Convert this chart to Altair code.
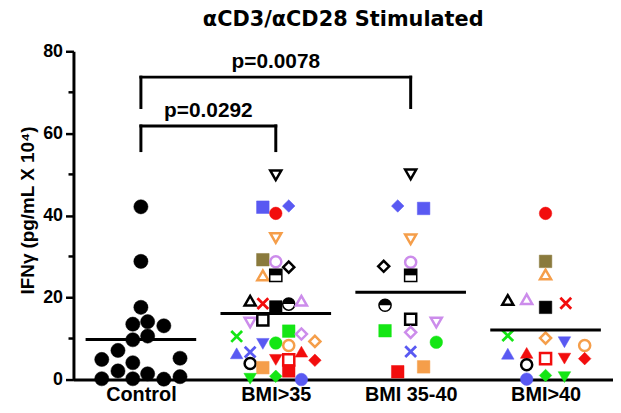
import json
import altair as alt
import pandas as pd

GROUPS = ["Control", "BMI>35", "BMI 35-40", "BMI>40"]

# ---- subjects (each donor has its own symbol) ----
subject_ids = ["CTRL",
               "A1", "A2", "A3", "A4", "A5", "A6", "A7", "A8", "A9", "A10", "A11", "A12", "A13", "A14", "A15", "A16",
               "B1", "B2", "B3", "B4", "B5", "B6", "B7", "B8", "B9", "B10", "B11", "B12", "B13", "B14", "B15", "B16",
               "B17", "B18", "B19", "B20"]
subject_shape = ["circle",
                 "triangle-down", "diamond", "square", "triangle-down", "circle", "diamond", "halfsquare", "halfcircle",
                 "square", "triangle-down", "square", "diamond", "circle", "x", "square", "square",
                 "circle", "square", "triangle-up", "triangle-up", "triangle-up", "square", "x", "x", "diamond",
                 "triangle-down", "circle", "triangle-up", "triangle-up", "square", "triangle-down", "diamond",
                 "circle", "circle", "diamond", "triangle-down"]
subject_color = ["black",
                 "black", "blue", "blue", "orange", "violet", "black", "black", "black",
                 "black", "violet", "green", "violet", "green", "blue", "orange", "red",
                 "red", "olive", "orange", "black", "violet", "black", "red", "green", "orange",
                 "blue", "orange", "blue", "red", "red", "red", "red",
                 "black", "blue", "green", "green"]
subject_fill = ["filled",
                "open", "filled", "filled", "open", "open", "open", "half", "half",
                "open", "open", "filled", "open", "filled", "line", "filled", "filled",
                "filled", "filled", "open", "open", "open", "filled", "line", "line", "open",
                "filled", "open", "filled", "filled", "open", "filled", "filled",
                "open", "filled", "filled", "filled"]

# ---- group data (values in pg/mL x 10^4, horizontal scatter in category units) ----
control_values = [42.1, 28.8, 17.6, 13.5, 14.1, 13.1, 9.7, 10.6, 7.1, 4.9, 4.1, 5.2, 2.1, 0.2, 0.2, 1.4, 0.1, 0.7]
control_offsets = [0, 0, 0, -0.06, 0.05, 0.17, -0.06, 0.05, -0.17, -0.29, -0.06, 0.29, -0.17, -0.29, -0.06, 0.05, 0.17, 0.29]

bmi35_subjects = ["A1", "A3", "B1", "A2", "A4", "B2", "A5", "A6", "B3", "A7", "B4", "B7", "B6", "A8", "B5", "A10",
                  "A9", "A11", "A12", "B9", "B8", "B10", "A13", "B11", "B12", "A14", "B15", "B14", "B13", "B16",
                  "B17", "A15", "A16", "B20", "B19", "B18"]
bmi35_values = [49.8, 42.0, 40.5, 42.3, 34.5, 29.2, 28.7, 27.4, 25.4, 25.4, 19.2, 18.5, 17.7, 18.4, 19.2, 13.9,
                14.5, 11.8, 11.1, 9.3, 10.5, 8.7, 8.9, 8.3, 6.4, 6.7, 4.8, 4.8, 6.8, 4.7,
                3.9, 2.9, 2.1, 0.2, 0.8, 0.0]
bmi35_offsets = [0, -0.096, 0, 0.096, 0, -0.096, 0, 0.096, -0.096, 0, -0.19, -0.096, 0, 0.096, 0.19, -0.19,
                 -0.096, 0.096, 0.19, 0.29, -0.29, -0.096, 0, 0.096, -0.29, -0.19, 0, 0.096, 0.19, 0.29,
                 -0.19, -0.096, 0.096, -0.19, 0, 0.19]

bmi3540_subjects = ["A1", "A2", "A3", "A4", "A5", "A6", "A7", "A8", "A9", "A10", "A11", "A12", "A13", "A14", "A15", "A16"]
bmi3540_values = [50.0, 42.3, 41.7, 34.2, 28.6, 27.6, 25.4, 18.1, 14.7, 13.9, 11.9, 11.5, 9.1, 6.8, 3.1, 1.9]
bmi3540_offsets = [0, -0.096, 0.096, 0, 0, -0.2, 0, -0.19, 0, 0.19, -0.19, 0, 0.19, 0, 0.096, -0.096]

bmi40_subjects = ["B1", "B2", "B3", "B4", "B5", "B6", "B7", "B8", "B9", "B10", "B11", "B12", "B13", "B14", "B15",
                  "B16", "B17", "B18", "B19", "B20"]
bmi40_values = [40.5, 28.8, 25.6, 19.4, 19.6, 17.6, 18.6, 10.7, 10.1, 9.1, 8.3, 6.3, 6.5, 5.1, 5.1, 5.1, 3.6, 0.1, 1.0, 0.6]
bmi40_offsets = [0, 0, 0, -0.28, -0.14, 0, 0.15, -0.28, 0, 0.14, 0.29, -0.28, -0.14, 0, 0.14, 0.29, -0.14, -0.14, 0, 0.14]

# ---- significance brackets ----
bracket_from = [0, 0]
bracket_to = [1, 2]
bracket_y = [61.8, 73.7]
bracket_drop = [6.0, 7.4]
bracket_labels = ["p=0.0292", "p=0.0078"]

y_ticks = [0, 20, 40, 60, 80]
y_minor_ticks = [10, 30, 50, 70]

# ---- styling helpers ----
COLORS = {"black": "#000000", "blue": "#5959F2", "red": "#F20D0D", "green": "#14E614",
          "orange": "#F59E4A", "violet": "#CC8CEB", "olive": "#8A7A3D"}
X_PATH = "M-0.85,-0.85L0.85,0.85M-0.85,0.85L0.85,-0.85"
HALF_PATH = {"halfcircle": "M-1,0A1,1,0,0,1,1,0Z", "halfsquare": "M-1,-1L1,-1L1,0L-1,0Z"}
style = {sid: (sh, c, f) for sid, sh, c, f in zip(subject_ids, subject_shape, subject_color, subject_fill)}

rows = []
group_sets = [
    (["CTRL"] * len(control_values), control_values, control_offsets),
    (bmi35_subjects, bmi35_values, bmi35_offsets),
    (bmi3540_subjects, bmi3540_values, bmi3540_offsets),
    (bmi40_subjects, bmi40_values, bmi40_offsets),
]
for g, (subs, vals, offs) in enumerate(group_sets):
    for s, v, o in zip(subs, vals, offs):
        sh, c, f = style[s]
        col = COLORS[c]
        half = ""
        if f == "filled":
            shape, fill, stroke, sw, size = sh, col, col, 0.5, (205 if s == "CTRL" else 160)
        elif f == "open":
            shape, fill, stroke, sw, size = sh, "white", col, 2.5, 125
        elif f == "line":
            shape, fill, stroke, sw, size = X_PATH, "transparent", col, 2.8, 165
        else:
            shape = "circle" if sh == "halfcircle" else "square"
            fill, stroke, sw, size = "white", col, 1.5, 150
            half = HALF_PATH[sh]
        rows.append({"g": g, "value": v, "dx": o, "shape": shape, "fill": fill,
                     "stroke": stroke, "sw": sw, "size": size, "half": half})
points = pd.DataFrame(rows)

segs = []
for a, b, y, d in zip(bracket_from, bracket_to, bracket_y, bracket_drop):
    segs.append({"xpos": a, "xpos2": b, "value": y, "value2": y})
    segs.append({"xpos": a, "xpos2": a, "value": y - d, "value2": y})
    segs.append({"xpos": b, "xpos2": b, "value": y - d, "value2": y})
segs = pd.DataFrame(segs)
labels = pd.DataFrame({"xpos": [(a + b) / 2 for a, b in zip(bracket_from, bracket_to)],
                       "value": bracket_y, "label": bracket_labels})

FONT = "Liberation Sans"
xscale = alt.Scale(domain=[-0.5, 3.5], nice=False, zero=False)
yscale = alt.Scale(domain=[0, 80], nice=False, zero=True)

x_axis = alt.Axis(values=[0, 1, 2, 3], labelExpr=json.dumps(GROUPS) + "[datum.value]", ticks=False,
                  grid=False, domainWidth=3, domainColor="black", labelFont=FONT, labelFontSize=20,
                  labelFontWeight="bold", labelColor="black", labelPadding=5, labelOverlap=False,
                  labelFlush=False, labelBound=False, title=None)
y_axis = alt.Axis(values=y_ticks, grid=False, domainWidth=3, domainColor="black", tickSize=8, tickWidth=2.5,
                  tickColor="black", labelFont=FONT, labelFontSize=18, labelFontWeight="bold",
                  labelColor="black", labelPadding=3, title="IFNγ (pg/mL X 10⁴)", titleFont=FONT,
                  titleFontSize=19, titleFontWeight="bold", titleColor="black", titleAngle=270,
                  titleAlign="center", titleBaseline="middle", titleX=-46, titleY=160)


def X(field="xpos:Q"):
    return alt.X(field, scale=xscale, axis=x_axis)


def Y(field="value:Q"):
    return alt.Y(field, scale=yscale, axis=y_axis)


base_pts = alt.Chart(points).transform_calculate(xpos="datum.g + datum.dx")

pts = base_pts.mark_point(opacity=1, filled=True).encode(
    x=X(), y=Y(),
    shape=alt.Shape("shape:N", scale=None),
    fill=alt.Fill("fill:N", scale=None),
    stroke=alt.Stroke("stroke:N", scale=None),
    strokeWidth=alt.StrokeWidth("sw:Q", scale=None),
    size=alt.Size("size:Q", scale=None),
)

halves = base_pts.transform_filter("datum.half != ''").mark_point(
    opacity=1, filled=True, color="black", strokeWidth=0).encode(
    x=X(), y=Y(),
    shape=alt.Shape("half:N", scale=None),
    size=alt.Size("size:Q", scale=None),
)

means = alt.Chart(points).transform_aggregate(
    value="mean(value)", groupby=["g"]
).transform_calculate(
    xpos="datum.g - 0.41", xpos2="datum.g + 0.41"
).mark_rule(strokeWidth=3, color="black").encode(
    x=X(), x2="xpos2:Q", y=Y()
)

brackets = alt.Chart(segs).mark_rule(strokeWidth=3, color="black", strokeCap="square").encode(
    x=X(), x2="xpos2:Q", y=Y(), y2="value2:Q"
)

ptext = alt.Chart(labels).mark_text(font=FONT, fontSize=21, fontWeight="bold", color="black",
                                    baseline="alphabetic", dy=-9).encode(
    x=X(), y=Y(), text="label:N"
)

minor = alt.Chart(pd.DataFrame({"value": y_minor_ticks})).mark_rule(strokeWidth=2.5, color="black").encode(
    y=Y(), x=alt.value(-5), x2=alt.value(0)
)

chart = alt.layer(pts, halves, means, brackets, ptext, minor).properties(
    width=544, height=331,
    title=alt.TitleParams("αCD3/αCD28 Stimulated", font="DejaVu Sans", fontSize=21, fontWeight="bold",
                          color="black", anchor="middle", frame="group", offset=12),
    autosize=alt.AutoSizeParams(type="none"),
    padding={"left": 66, "top": 42, "right": 0, "bottom": 23},
    background="white",
).configure_view(stroke=None)

chart.save("out.html", embed_options={"renderer": "svg", "actions": False})
